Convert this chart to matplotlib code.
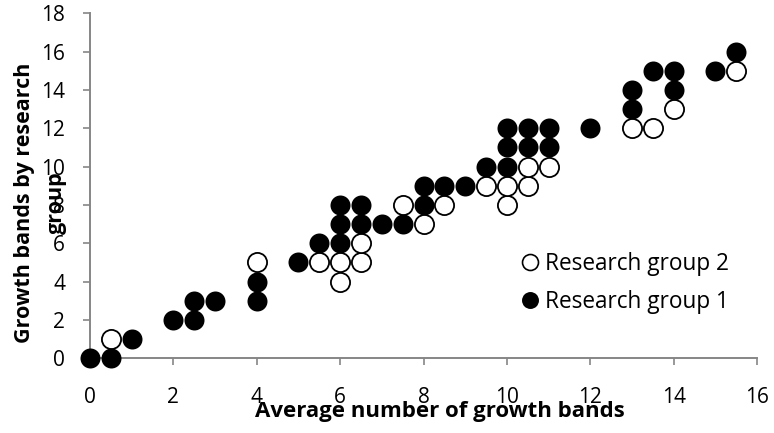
import matplotlib
matplotlib.use("Agg")
import matplotlib.pyplot as plt
from matplotlib.lines import Line2D

plt.rcParams['font.family'] = ['Open Sans', 'DejaVu Sans']

# Research group 2 (open circles)
g2_x = [0.5, 4, 5.5, 6, 6.5, 6, 6.5, 7.5, 8, 8.5, 10, 9.5, 10, 10.5, 10.5, 11, 13, 13.5, 14, 15.5]
g2_y = [1, 5, 5, 5, 5, 4, 6, 8, 7, 8, 8, 9, 9, 9, 10, 10, 12, 12, 13, 15]

# Research group 1 (filled circles)
g1_x = [0, 0.5, 1, 2, 2.5, 2.5, 3, 4, 4, 5, 5.5, 6, 6, 6, 6.5, 6.5, 7, 7.5, 8, 8, 8.5, 9,
        9.5, 10, 10, 10, 10.5, 10.5, 11, 11, 12, 13, 13, 13.5, 14, 14, 15, 15.5]
g1_y = [0, 0, 1, 2, 2, 3, 3, 3, 4, 5, 6, 6, 7, 8, 7, 8, 7, 7, 8, 9, 9, 9,
        10, 10, 11, 12, 11, 12, 11, 12, 12, 13, 14, 15, 14, 15, 15, 16]

x_ticks = [0, 2, 4, 6, 8, 10, 12, 14, 16]
y_ticks = [0, 2, 4, 6, 8, 10, 12, 14, 16, 18]

W, H = 774, 433
fig = plt.figure(figsize=(W / 100, H / 100), dpi=100)
ax = fig.add_axes([90 / W, (H - 358.3) / H, (757 - 90) / W, (358.3 - 13.3) / H])

ax.plot(g2_x, g2_y, linestyle='none', marker='o', markersize=13.8,
        markerfacecolor='white', markeredgecolor='black', markeredgewidth=1.3,
        clip_on=False, zorder=3)
ax.plot(g1_x, g1_y, linestyle='none', marker='o', markersize=14.4,
        markerfacecolor='black', markeredgecolor='black', markeredgewidth=0,
        clip_on=False, zorder=4)

ax.set_xlim(0, 16)
ax.set_ylim(0, 18)
ax.set_xticks(x_ticks)
ax.set_yticks(y_ticks)
ax.set_xticklabels([str(t) for t in x_ticks])
ax.set_yticklabels([str(t) for t in y_ticks])

gray = '#868686'
for s in ['top', 'right']:
    ax.spines[s].set_visible(False)
for s in ['left', 'bottom']:
    ax.spines[s].set_color(gray)
    ax.spines[s].set_linewidth(1.4)
ax.tick_params(axis='both', direction='out', length=5, width=1.2, color=gray,
               labelsize=15, labelcolor='black')
ax.tick_params(axis='x', pad=15.5)
ax.tick_params(axis='y', pad=13)

fig.text(440 / W, 1 - 411.7 / H, 'Average number of growth bands', ha='center', va='center',
         fontsize=16, fontweight='bold')
fig.text(40.5 / W, 1 - 203 / H, 'Growth bands by research\ngroup', ha='center', va='center',
         rotation=90, fontsize=15.5, fontweight='bold', multialignment='center',
         linespacing=1.7)

handles = [
    Line2D([], [], linestyle='none', marker='o', markersize=11.5, markerfacecolor='white',
           markeredgecolor='black', markeredgewidth=1.2, label='Research group 2'),
    Line2D([], [], linestyle='none', marker='o', markersize=12.2, markerfacecolor='black',
           markeredgecolor='black', markeredgewidth=0, label='Research group 1'),
]
fig.legend(handles=handles, loc='upper left', bbox_to_anchor=(522 / W, 1 - 252 / H),
           frameon=False, fontsize=16.3, handlelength=0.7, handletextpad=0.3,
           labelspacing=0.62, borderpad=0, borderaxespad=0)

fig.savefig('out.png', dpi=100)
